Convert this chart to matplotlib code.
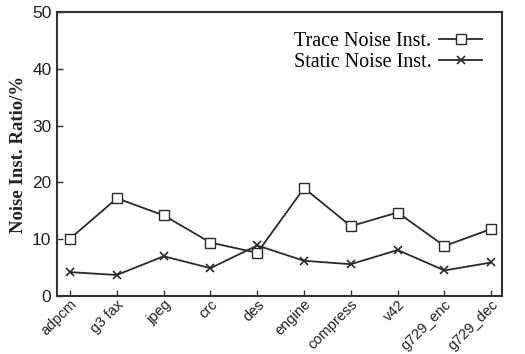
import numpy as np
import matplotlib
matplotlib.use("Agg")
import matplotlib.pyplot as plt

benchmarks = ["adpcm", "g3 fax", "jpeg", "crc", "des", "engine",
              "compress", "v42", "g729_enc", "g729_dec"]
trace_noise = [10.1, 17.2, 14.2, 9.4, 7.6, 19.0, 12.3, 14.7, 8.8, 11.8]
static_noise = [4.2, 3.7, 7.0, 4.9, 8.9, 6.2, 5.6, 8.1, 4.5, 5.9]

fig = plt.figure(figsize=(5.25, 3.54), dpi=100)
ax = fig.add_axes([57 / 525, 1 - 296 / 354, 445 / 525, 284 / 354])

x = np.arange(len(benchmarks))
ax.plot(x, trace_noise, color="#2a2a2a", lw=1.3, marker="s", ms=7,
        mfc="white", mec="#2a2a2a", mew=1.0, label="Trace Noise Inst.")
ax.plot(x, static_noise, color="#2a2a2a", lw=1.3, marker="x", ms=6,
        mew=1.2, label="Static Noise Inst.")

ax.set_xlim(-0.28, 9.23)
ax.set_ylim(0, 50)
ax.set_yticks([0, 10, 20, 30, 40, 50])
ax.set_xticks(x)
ax.set_xticklabels(benchmarks, rotation=45, ha="right", rotation_mode="anchor",
                   family="Liberation Sans", fontsize=10.5, color="#222222")
for lab in ax.get_yticklabels():
    lab.set_family("Liberation Sans")
    lab.set_fontsize(12.5)
    lab.set_color("#222222")
ax.tick_params(axis="x", direction="in", length=4, width=1, color="#333333", pad=1)
ax.tick_params(axis="y", direction="in", length=4, width=1, color="#333333", pad=4)
for s in ax.spines.values():
    s.set_linewidth(1.5)
    s.set_color("#333333")

ax.set_ylabel("Noise Inst. Ratio/%", family="Liberation Serif", fontsize=13.5,
              fontweight="bold", color="#222222", labelpad=4)

ax.legend(loc="upper right", frameon=False, markerfirst=False,
          prop={"family": "Liberation Serif", "size": 14.5},
          handlelength=2.1, labelspacing=0.1, bbox_to_anchor=(0.995, 0.995),
          handletextpad=0.4)

fig.savefig("out.png", dpi=100)
